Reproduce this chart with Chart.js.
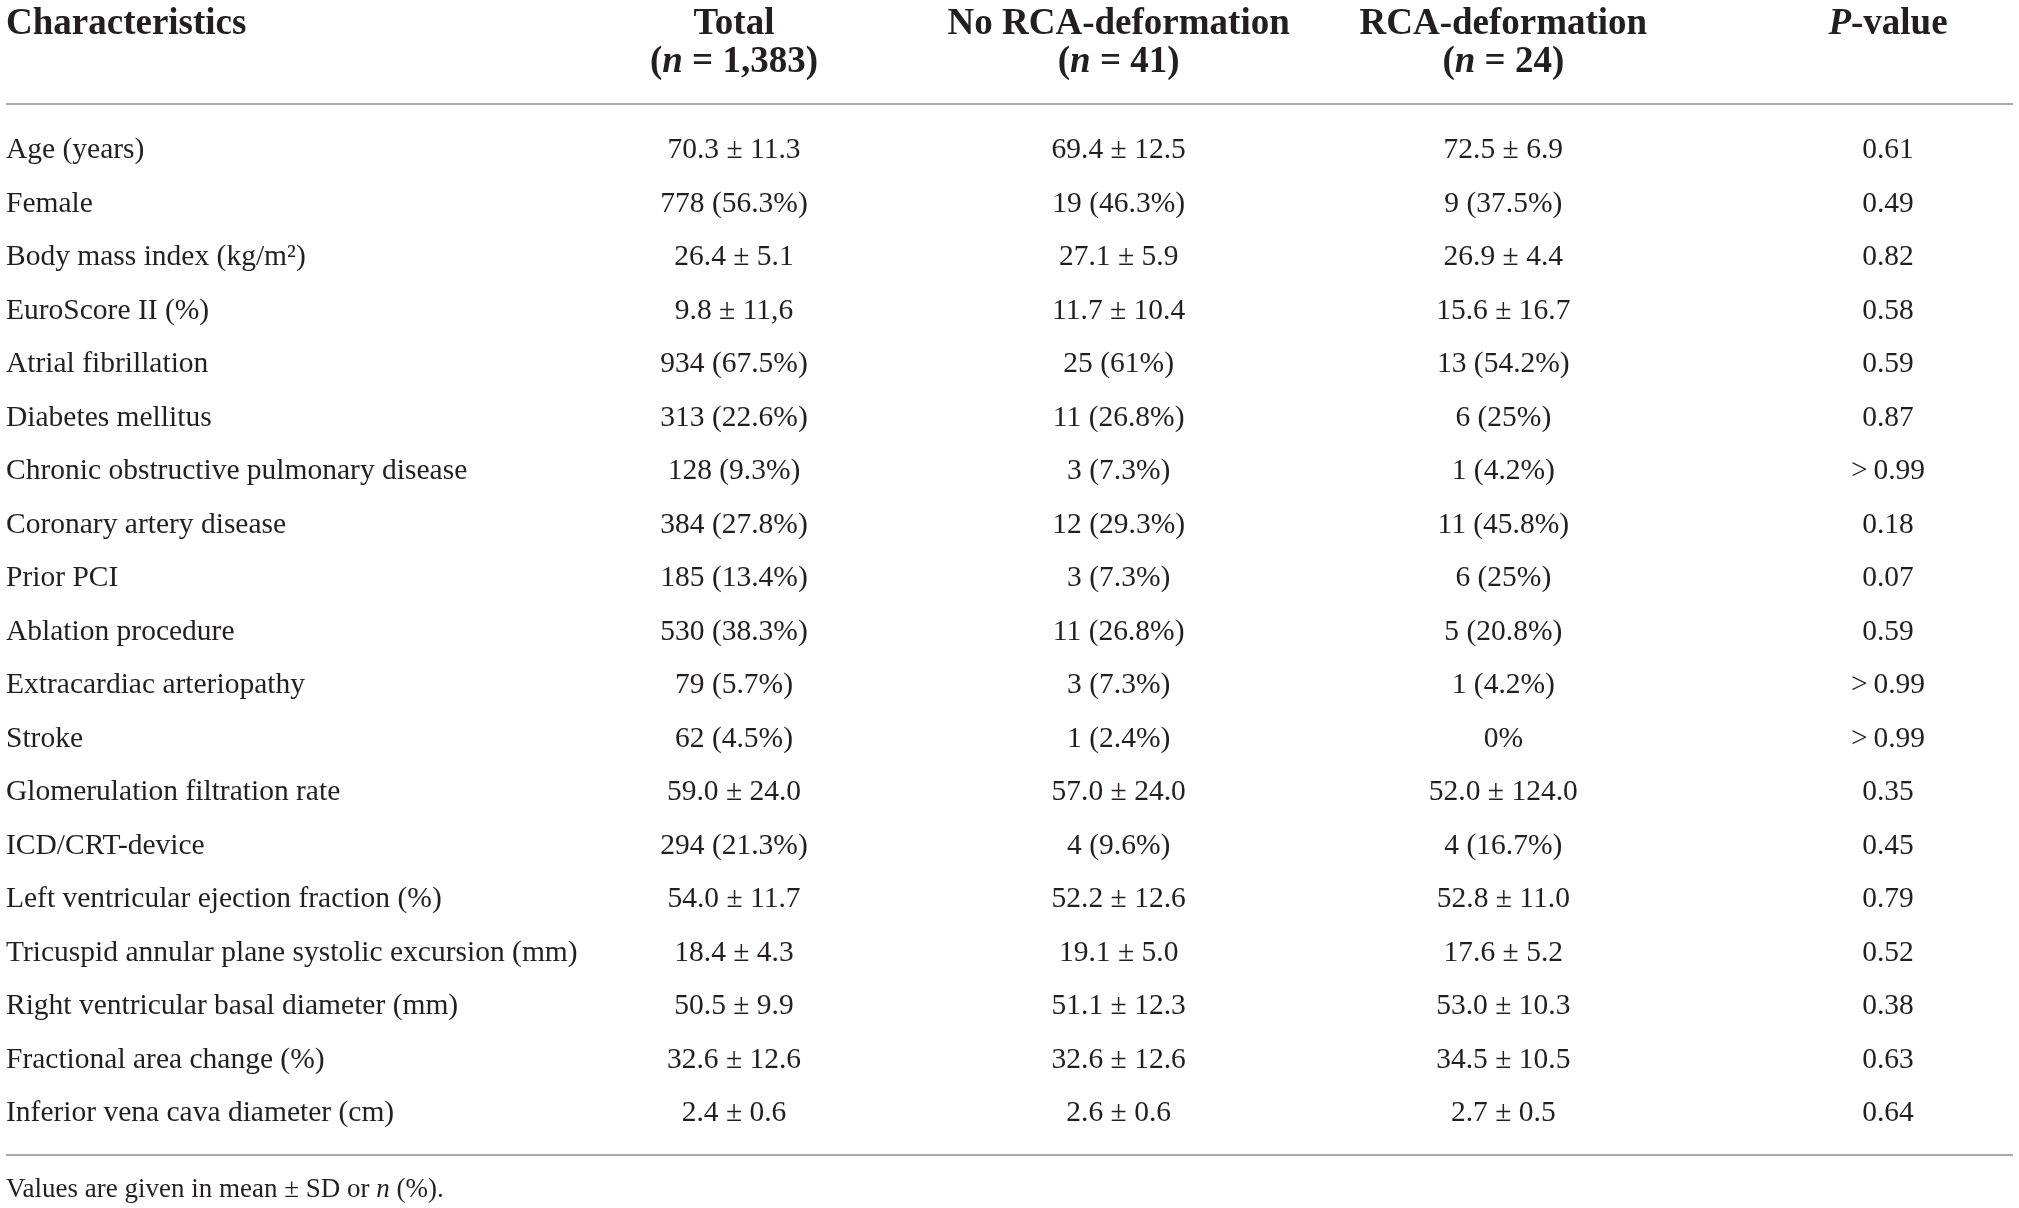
<!DOCTYPE html>
<html>
<head>
<meta charset="utf-8">
<title>Patient characteristics</title>
<script src="https://cdn.jsdelivr.net/npm/chart.js@4.4.1/dist/chart.umd.min.js"></script>
<style>
	html, body { margin: 0; padding: 0; background: #fff; }
	#wrap { width: 2019px; height: 1208px; position: relative; }
</style>
</head>
<body>
<div id="wrap"><canvas id="tableChart"></canvas></div>
<script>
// rows of the table
const characteristics = [
	'Age (years)',
	'Female',
	'Body mass index (kg/m²)',
	'EuroScore II (%)',
	'Atrial fibrillation',
	'Diabetes mellitus',
	'Chronic obstructive pulmonary disease',
	'Coronary artery disease',
	'Prior PCI',
	'Ablation procedure',
	'Extracardiac arteriopathy',
	'Stroke',
	'Glomerulation filtration rate',
	'ICD/CRT-device',
	'Left ventricular ejection fraction (%)',
	'Tricuspid annular plane systolic excursion (mm)',
	'Right ventricular basal diameter (mm)',
	'Fractional area change (%)',
	'Inferior vena cava diameter (cm)',
];

// column headers
const columns = ['Total', 'No RCA-deformation', 'RCA-deformation', 'P-value'];
const columnN = ['1,383', '41', '24', ''];

// cell values per column
const totalCells = ['70.3 ± 11.3', '778 (56.3%)', '26.4 ± 5.1', '9.8 ± 11,6', '934 (67.5%)', '313 (22.6%)', '128 (9.3%)', '384 (27.8%)', '185 (13.4%)', '530 (38.3%)', '79 (5.7%)', '62 (4.5%)', '59.0 ± 24.0', '294 (21.3%)', '54.0 ± 11.7', '18.4 ± 4.3', '50.5 ± 9.9', '32.6 ± 12.6', '2.4 ± 0.6'];
const noRcaCells = ['69.4 ± 12.5', '19 (46.3%)', '27.1 ± 5.9', '11.7 ± 10.4', '25 (61%)', '11 (26.8%)', '3 (7.3%)', '12 (29.3%)', '3 (7.3%)', '11 (26.8%)', '3 (7.3%)', '1 (2.4%)', '57.0 ± 24.0', '4 (9.6%)', '52.2 ± 12.6', '19.1 ± 5.0', '51.1 ± 12.3', '32.6 ± 12.6', '2.6 ± 0.6'];
const rcaCells = ['72.5 ± 6.9', '9 (37.5%)', '26.9 ± 4.4', '15.6 ± 16.7', '13 (54.2%)', '6 (25%)', '1 (4.2%)', '11 (45.8%)', '6 (25%)', '5 (20.8%)', '1 (4.2%)', '0%', '52.0 ± 124.0', '4 (16.7%)', '52.8 ± 11.0', '17.6 ± 5.2', '53.0 ± 10.3', '34.5 ± 10.5', '2.7 ± 0.5'];
const pValues = ['0.61', '0.49', '0.82', '0.58', '0.59', '0.87', '>\u20090.99', '0.18', '0.07', '0.59', '>\u20090.99', '>\u20090.99', '0.35', '0.45', '0.79', '0.52', '0.38', '0.63', '0.64'];

const footnoteParts = ['Values are given in mean ± SD or ', 'n', ' (%).'];

const ink = '#231f20';
const ruleColor = '#a7a9ac';
const serif = "'Liberation Serif', 'Times New Roman', serif";
const bodySize = 29.5;
const bodyFont = bodySize + 'px ' + serif;
const headFont = 'bold 37px ' + serif;
const headItalic = 'italic bold 37px ' + serif;
const noteFont = '27px ' + serif;
const noteItalic = 'italic 27px ' + serif;

// draws a line made of differently styled pieces
function drawRuns(ctx, runs, x, y, align) {
	let width = 0;
	runs.forEach((r) => {
		ctx.font = r.font;
		width += ctx.measureText(r.text).width;
	});
	let cx = align === 'center' ? x - width / 2 : x;
	ctx.textAlign = 'left';
	runs.forEach((r) => {
		ctx.font = r.font;
		ctx.fillText(r.text, cx, y);
		cx += ctx.measureText(r.text).width;
	});
}

const cellText = {
	id: 'cellText',
	afterDatasetsDraw(chart) {
		const ctx = chart.ctx;
		ctx.save();
		ctx.fillStyle = ink;
		ctx.font = bodyFont;
		ctx.textAlign = 'center';
		ctx.textBaseline = 'middle';
		chart.data.datasets.forEach((ds, d) => {
			chart.getDatasetMeta(d).data.forEach((pt, i) => {
				ctx.fillText(ds.cells[i], pt.x, pt.y);
			});
		});
		ctx.restore();
	},
};

const tableFrame = {
	id: 'tableFrame',
	afterDraw(chart) {
		const ctx = chart.ctx;
		const area = chart.chartArea;
		const xScale = chart.scales.x;
		ctx.save();
		ctx.fillStyle = ink;
		ctx.textBaseline = 'middle';

		// header
		drawRuns(ctx, [{ text: 'Characteristics', font: headFont }], 6, 24, 'left');
		columns.forEach((title, c) => {
			const x = xScale.getPixelForValue(c);
			if (title.startsWith('P-')) {
				drawRuns(ctx, [
					{ text: 'P', font: headItalic },
					{ text: title.slice(1), font: headFont },
				], x, 24, 'center');
			} else {
				drawRuns(ctx, [{ text: title, font: headFont }], x, 24, 'center');
			}
			if (columnN[c]) {
				drawRuns(ctx, [
					{ text: '(', font: headFont },
					{ text: 'n', font: headItalic },
					{ text: ' = ' + columnN[c] + ')', font: headFont },
				], x, 62, 'center');
			}
		});

		// rules
		ctx.strokeStyle = ruleColor;
		ctx.lineWidth = 2;
		[area.top - 19.5, area.bottom + 14.5].forEach((y) => {
			ctx.beginPath();
			ctx.moveTo(6, y);
			ctx.lineTo(2013, y);
			ctx.stroke();
		});

		// footnote
		drawRuns(ctx, [
			{ text: footnoteParts[0], font: noteFont },
			{ text: footnoteParts[1], font: noteItalic },
			{ text: footnoteParts[2], font: noteFont },
		], 6, area.bottom + 49.5, 'left');
		ctx.restore();
	},
};

window.addEventListener('DOMContentLoaded', () => {
	const cellColumns = [totalCells, noRcaCells, rcaCells, pValues];
	const datasets = cellColumns.map((cells, c) => ({
		label: columns[c],
		data: characteristics.map((row) => ({ x: columns[c], y: row })),
		cells: cells,
		pointRadius: 0,
		pointHoverRadius: 0,
		showLine: false,
	}));

	const context = document.getElementById('tableChart').getContext('2d');
	new Chart(context, {
		type: 'scatter',
		data: { datasets: datasets },
		options: {
			responsive: true,
			maintainAspectRatio: false,
			animation: false,
			layout: {
				padding: { left: 6, right: 131, top: 123.5, bottom: 67.5 },
			},
			plugins: {
				legend: { display: false },
				tooltip: { enabled: false },
			},
			scales: {
				x: {
					type: 'category',
					labels: columns,
					position: 'top',
					offset: false,
					display: false,
				},
				y: {
					type: 'category',
					labels: characteristics,
					offset: true,
					grid: { display: false },
					border: { display: false },
					afterFit(scale) {
						scale.width = 728;
					},
					ticks: {
						autoSkip: false,
						crossAlign: 'far',
						color: ink,
						font: { family: serif, size: bodySize },
					},
				},
			},
		},
		plugins: [cellText, tableFrame],
	});
});
</script>
</body>
</html>
